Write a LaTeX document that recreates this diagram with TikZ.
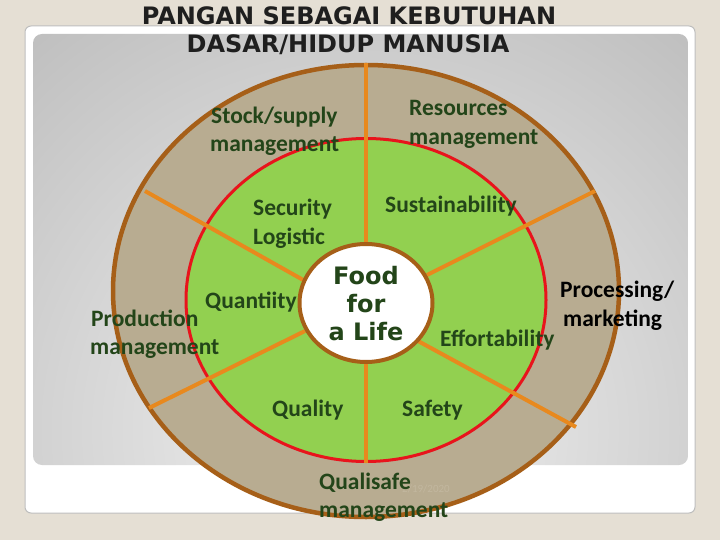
\documentclass[tikz,border=0pt]{standalone}
\usepackage{fontspec}
\setmainfont{Carlito}
\newfontfamily\titlefont{DejaVu Sans}
\usetikzlibrary{shapes.geometric}
\definecolor{pagebg}{HTML}{E5DFD4}
\definecolor{framegray}{HTML}{BEBEBE}
\definecolor{greydark}{HTML}{A3A3A3}
\definecolor{greylight}{HTML}{F2F2F2}
\definecolor{tan}{HTML}{B8AC91}
\definecolor{ringbrown}{HTML}{A65F18}
\definecolor{leaf}{HTML}{92D050}
\definecolor{redline}{HTML}{E8141C}
\definecolor{spokeor}{HTML}{E8891E}
\definecolor{txtgreen}{HTML}{234519}
\definecolor{datecol}{HTML}{C2B79F}
\begin{document}
\begin{tikzpicture}[x=1pt,y=-1pt,
  lbl/.style={anchor=base west, inner sep=0pt, font=\bfseries\fontsize{23.5}{28}\selectfont, text=txtgreen},
  blk/.style={lbl, text=black},
  foodtxt/.style={anchor=base, inner sep=0pt, font=\titlefont\bfseries\fontsize{24}{28}\selectfont, text=txtgreen},
  ttl/.style={anchor=base, inner sep=0pt, font=\titlefont\bfseries\fontsize{24}{28}\selectfont, text=black!88},
  spoke/.style={draw=spokeor, line width=4pt}]
\useasboundingbox (0,0) rectangle (720,540);
\fill[pagebg] (0,0) rectangle (720,540);
\draw[fill=white, draw=framegray, line width=1pt, rounded corners=6pt] (25,26) rectangle (695,513);
\begin{scope}
  \clip[rounded corners=9pt] (33,34) rectangle (688,465);
  \shade[inner color=greylight, outer color=greydark] (360,430) circle[radius=800];
\end{scope}
% title
\node[ttl] (t1) at (349,25) {PANGAN SEBAGAI KEBUTUHAN};
\node[ttl] (t2) at (348,53) {DASAR/HIDUP MANUSIA};
% rings
\node[ellipse, draw=ringbrown, fill=tan, line width=4.5pt, inner sep=0pt,
      minimum width=506pt, minimum height=452pt] (ring) at (366,291) {};
\node[ellipse, draw=redline, fill=leaf, line width=3pt, inner sep=0pt,
      minimum width=360pt, minimum height=323pt] (disc) at (366,300) {};
% spokes
\coordinate (i1) at (305,281); \coordinate (o1) at (145,191);
\coordinate (i2) at (427,275); \coordinate (o2) at (595,191);
\coordinate (i3) at (305,331); \coordinate (o3) at (149,408);
\coordinate (i4) at (418,341); \coordinate (o4) at (576,427);
\coordinate (ctop) at (366,250); \coordinate (cbot) at (366,356);
\draw[spoke] (ctop) -- (ring.north);
\draw[spoke] (cbot) -- (disc.south);
\draw[spoke] (i1) -- (o1);
\draw[spoke] (i2) -- (o2);
\draw[spoke] (i3) -- (o3);
\draw[spoke] (i4) -- (o4);
% core
\node[ellipse, draw=ringbrown, fill=white, line width=4pt, inner sep=0pt,
      minimum width=133pt, minimum height=118pt] (core) at (366,303) {};
\node[foodtxt] (f1) at (366,284) {Food};
\node[foodtxt] (f2) at (366,312) {for};
\node[foodtxt] (f3) at (366,340) {a Life};
% labels
\node[lbl] (s1) at (211,124) {Stock/supply};
\node[lbl] (s2) at (210,152) {management};
\node[lbl] (r1) at (409,116) {Resources};
\node[lbl] (r2) at (409,145) {management};
\node[lbl] (sec1) at (253,215) {Security};
\node[lbl] (sec2) at (253,244) {Logistic};
\node[lbl] (sus) at (385,213) {Sustainability};
\node[lbl] (qty) at (205,308) {Quantiity};
\node[lbl] (p1) at (91,326) {Production};
\node[lbl] (p2) at (90,354) {management};
\node[blk] (m1) at (560,297) {Processing/};
\node[blk] (m2) at (563,326) {marketing};
\node[lbl] (eff) at (440,346) {Effortability};
\node[lbl] (qual) at (272,416) {Quality};
\node[lbl] (saf) at (402,416) {Safety};
\node[anchor=base west, inner sep=0pt, font=\fontsize{11}{13}\selectfont, text=datecol] (date) at (402,492) {2/19/2020};
\node[lbl] (q1) at (319,489) {Qualisafe};
\node[lbl] (q2) at (319,517) {management};
\end{tikzpicture}
\end{document}
